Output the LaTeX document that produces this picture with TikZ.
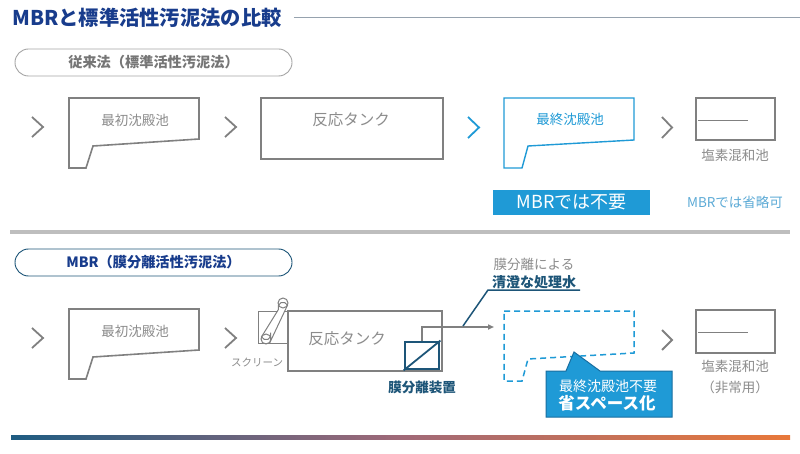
\documentclass[tikz,border=0pt]{standalone}
\usepackage{fontspec}
\setmainfont{Noto Sans CJK JP}
\usetikzlibrary{arrows.meta,calc}
\definecolor{ttl}{RGB}{24,60,140}
\definecolor{ttlline}{RGB}{150,162,174}
\definecolor{gline}{RGB}{128,128,128}
\definecolor{gtext}{RGB}{140,140,140}
\definecolor{pilltext}{RGB}{118,118,118}
\definecolor{mblue}{RGB}{31,154,214}
\definecolor{mbluedk}{RGB}{25,110,160}
\definecolor{lblue}{RGB}{92,170,214}
\definecolor{teal}{RGB}{29,85,120}
\definecolor{sepgray}{RGB}{190,190,190}
\definecolor{gradL}{RGB}{30,92,130}
\definecolor{gradM}{RGB}{160,105,120}
\definecolor{gradR}{RGB}{232,120,58}
\tikzset{
  lbl/.style={inner sep=0pt, text=gtext, font=\fontsize{13.5}{15}\selectfont},
  tanklbl/.style={inner sep=0pt, text=gtext, font=\fontsize{15.5}{17}\selectfont},
  pill/.style={draw, rounded corners=13.5pt, minimum width=277pt, minimum height=27pt, inner sep=0pt, line width=0.9pt, font=\bfseries\fontsize{14.2}{16}\selectfont},
  chev/.style={draw=gline, line width=1.8pt},
  tankbox/.style={draw=gline, line width=2.6pt, inner sep=0pt},
  settle/.style={draw=gline, line width=1.6pt},
  thinbox/.style={draw=gline, line width=1pt},
}
\begin{document}
\begin{tikzpicture}[x=1pt,y=-1pt]
\useasboundingbox[fill=white] (0,0) rectangle (800,454);

% title
\node[anchor=west, inner sep=0pt, text=ttl, font=\bfseries\fontsize{20.3}{22}\selectfont] (title) at (12,18) {MBRと標準活性汚泥法の比較};
\coordinate (tl2) at (800,18);
\draw[ttlline, line width=1pt] ([xshift=12pt]title.east) -- (tl2);

% ===== Row 1 =====
\node[pill, draw=gray!70, text=pilltext] (pill1) at (153.5,62.5) {従来法（標準活性汚泥法）};

\coordinate (c1) at (32,117);
\draw[chev] (c1) -- ++(11,10) -- ++(-11,10);
\draw[settle] (69,98) -- (199,98) -- (199,139) -- (93,146) -- (86,168) -- (69,168) -- cycle;
\node[lbl] (s1) at (135,120) {最初沈殿池};

\coordinate (c2) at (225,117);
\draw[chev] (c2) -- ++(11,10) -- ++(-11,10);
\node[tankbox, minimum width=182pt, minimum height=61pt] (tank1) at (352,128.5) {};
\node[tanklbl] (tank1t) at (351,120) {反応タンク};

\coordinate (c3) at (468,117);
\draw[chev, draw=mblue] (c3) -- ++(11,10.5) -- ++(-11,10.5);
\draw[draw=mblue, line width=1.4pt] (504,98) -- (634,98) -- (634,140) -- (528,146) -- (522,168) -- (504,168) -- cycle;
\node[lbl, text=mblue] (fs1) at (570,119) {最終沈殿池};

\coordinate (c4) at (662,117);
\draw[chev] (c4) -- ++(10,10.5) -- ++(-10,10.5);
\node[tankbox, minimum width=79pt, minimum height=42pt] (cl1) at (735.5,119) {};
\coordinate (cl1a) at (698,120);
\coordinate (cl1b) at (748,120);
\draw[gline, line width=0.8pt] (cl1a) -- (cl1b);
\node[lbl] (cl1t) at (735,155) {塩素混和池};

\node[fill=mblue, minimum width=157pt, minimum height=25pt, inner sep=0pt, text=white, font=\fontsize{18}{20}\selectfont] (nomb) at (571.5,202.5) {MBRでは不要};
\node[lbl, text=lblue] (omit) at (735,202) {MBRでは省略可};

% separator
\fill[sepgray] (10,230.5) rectangle (790,234);

% ===== Row 2 =====
\node[pill, draw=teal, text=ttl] (pill2) at (153.5,262.5) {MBR（膜分離活性汚泥法）};

\coordinate (d1) at (32,328);
\draw[chev] (d1) -- ++(11,10) -- ++(-11,10);
\draw[settle] (69,309) -- (199,309) -- (199,350) -- (93,357) -- (86,379) -- (69,379) -- cycle;
\node[lbl] (s2) at (135,331) {最初沈殿池};

\coordinate (d2) at (225,328);
\draw[chev] (d2) -- ++(11,10) -- ++(-11,10);

% screen
\node[thinbox, minimum width=30pt, minimum height=32pt, inner sep=0pt] (scr) at (273,327) {};
\coordinate (bt) at (283,303);
\coordinate (bb) at (266,339);
\filldraw[fill=white, draw=gline, line width=1pt]
  ($(bb)+(4.52,2.14)$) -- ($(bt)+(4.52,2.14)$) arc[start angle=25.3, end angle=205.3, radius=5pt] -- ($(bb)+(-4.52,-2.14)$) arc[start angle=205.3, end angle=385.3, radius=5pt] -- cycle;
\draw[gline, line width=1pt] (bt) circle[radius=5pt] (bb) circle[radius=5pt];
\node[inner sep=0pt, text=gtext, font=\fontsize{10.5}{12}\selectfont] (scrt) at (257,362) {スクリーン};

\node[tankbox, fill=white, minimum width=154pt, minimum height=60pt] (tank2) at (365,341) {};
\node[tanklbl] (tank2t) at (347,339) {反応タンク};

% membrane unit
\node[draw=teal, line width=2.8pt, fill=white, minimum width=34pt, minimum height=27pt, inner sep=0pt] (mem) at (422,355.5) {};
\draw[teal, line width=1.8pt] (mem.south west) -- (mem.north east);
\coordinate (pipeend) at (494,327);
\draw[gline, line width=1.8pt, -{Triangle[length=6pt,width=5pt]}] (mem.north) |- (pipeend);
\node[inner sep=0pt, text=teal, font=\bfseries\fontsize{13.5}{15}\selectfont] (memt) at (422,387) {膜分離装置};

% callout for treated water
\coordinate (q0) at (463,326);
\coordinate (q1) at (488,290);
\coordinate (q2) at (580,290);
\draw[teal, line width=1.5pt] (q0) -- (q1) -- (q2);
\node[lbl] (tw1) at (534,264) {膜分離による};
\node[inner sep=0pt, text=teal, font=\bfseries\fontsize{14}{16}\selectfont] (tw2) at (534,282) {清澄な処理水};

% removed final settling tank (dashed)
\draw[mblue, line width=1.5pt, dash pattern=on 6pt off 4pt] (504,311) -- (634,311) -- (634,353) -- (528,359) -- (522,381) -- (504,381) -- cycle;

% callout box
\filldraw[fill=mblue, draw=mbluedk, line width=1pt] (546,371) -- (566,371) -- (574,352) -- (600,371) -- (672,371) -- (672,417) -- (546,417) -- cycle;
\node[inner sep=0pt, text=white, font=\fontsize{14}{16}\selectfont] (cb1) at (608,386) {最終沈殿池不要};
\node[inner sep=0pt, text=white, font=\bfseries\fontsize{16.5}{18}\selectfont] (cb2) at (607,403) {省スペース化};

\coordinate (d4) at (662,330);
\draw[chev] (d4) -- ++(10,10) -- ++(-10,10);
\node[tankbox, minimum width=79pt, minimum height=43pt] (cl2) at (735.5,331.5) {};
\coordinate (cl2a) at (698,332);
\coordinate (cl2b) at (748,332);
\draw[gline, line width=0.8pt] (cl2a) -- (cl2b);
\node[lbl] (cl2t) at (735,366) {塩素混和池};
\node[lbl] (cl2u) at (735,387) {（非常用）};

% bottom gradient line
\shade[left color=gradL, right color=gradR, middle color=gradM] (11,435) rectangle (790,439);
\end{tikzpicture}
\end{document}
